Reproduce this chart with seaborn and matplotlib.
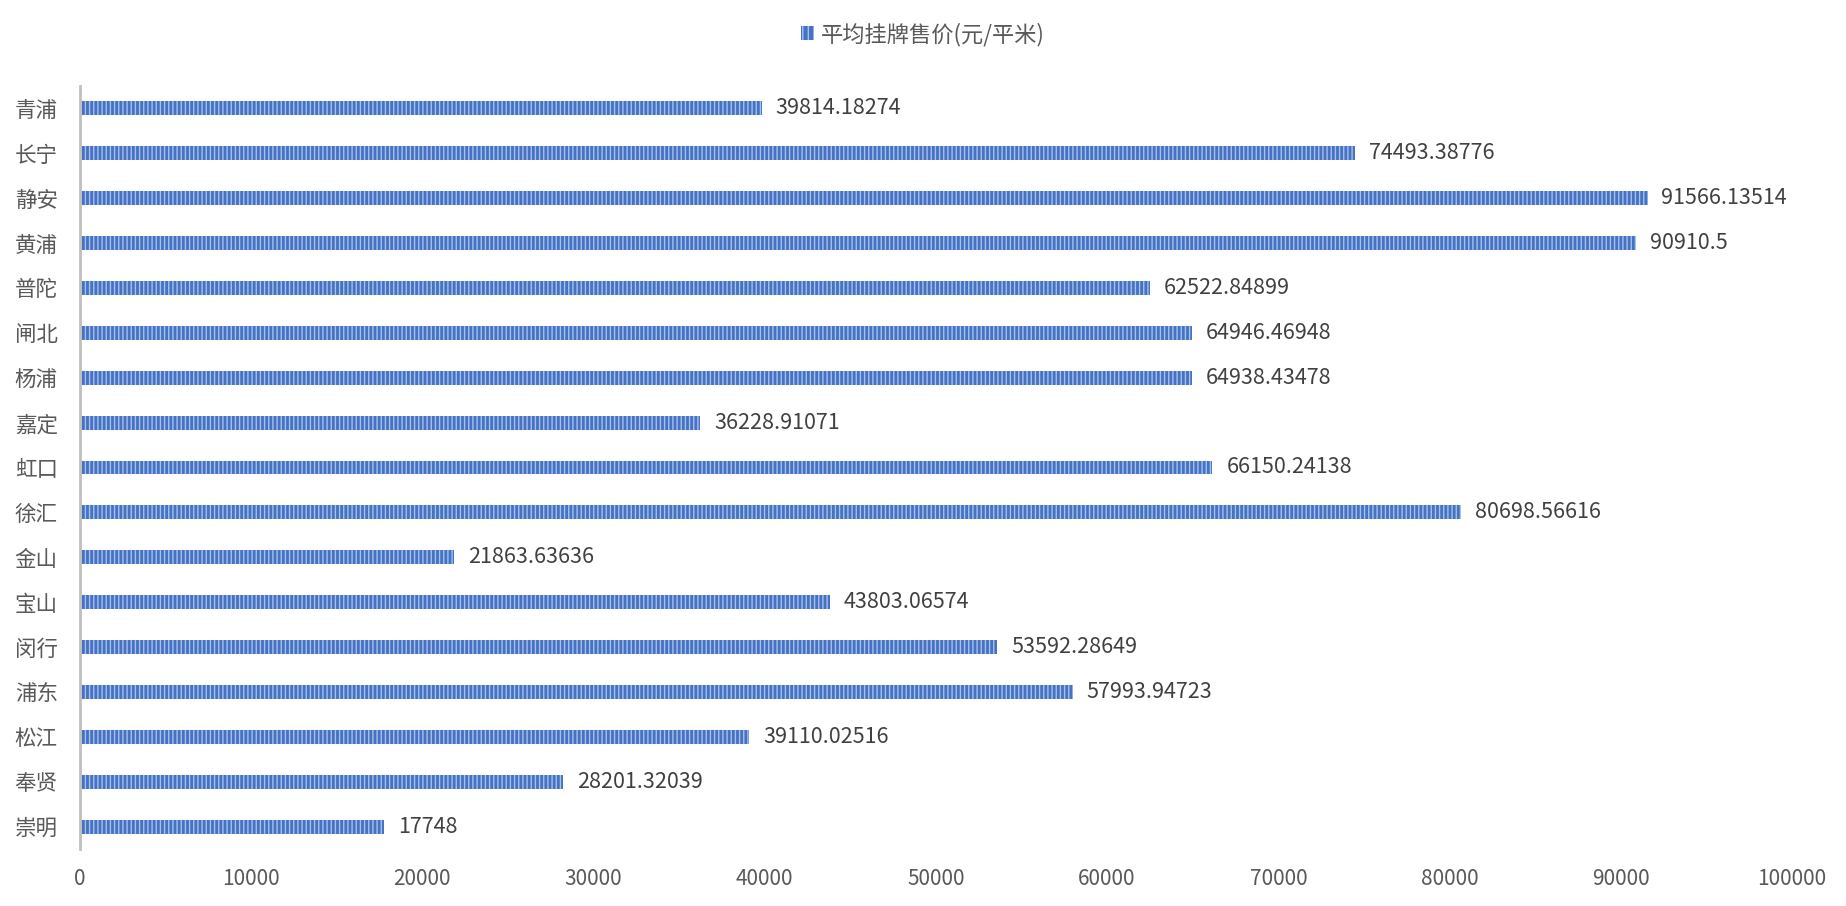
import matplotlib
matplotlib.use("Agg")
import matplotlib.pyplot as plt
from matplotlib.patches import Patch
import seaborn as sns
import pandas as pd

districts = ["青浦", "长宁", "静安", "黄浦", "普陀", "闸北", "杨浦", "嘉定", "虹口",
             "徐汇", "金山", "宝山", "闵行", "浦东", "松江", "奉贤", "崇明"]
prices = [39814.18274, 74493.38776, 91566.13514, 90910.5, 62522.84899, 64946.46948,
          64938.43478, 36228.91071, 66150.24138, 80698.56616, 21863.63636, 43803.06574,
          53592.28649, 57993.94723, 39110.02516, 28201.32039, 17748]
series_name = "平均挂牌售价(元/平米)"
x_ticks = list(range(0, 100001, 10000))

sns.set_theme(style="white")
plt.rcParams["font.family"] = ["Noto Sans CJK SC", "DejaVu Sans"]
plt.rcParams["hatch.linewidth"] = 1.0

text_color = "#595959"
bar_color = "#4472C4"
hatch_color = "#A9C0EA"

df = pd.DataFrame({"district": districts, "price": prices})

fig = plt.figure(figsize=(18.46, 9.06), dpi=100)
ax = fig.add_axes([0.0433, 0.0629, 0.9274, 0.8422])

sns.barplot(data=df, x="price", y="district", orient="h", color=bar_color,
            width=0.31, saturation=1, ax=ax)

for p in ax.patches:
    p.set_facecolor(bar_color)
    p.set_edgecolor(hatch_color)
    p.set_linewidth(0)
    p.set_hatch("||||")

ax.bar_label(ax.containers[0], labels=["%.10g" % v for v in prices],
             padding=10, fontsize=15.5, color="#404040")

ax.set_xlim(0, 100000)
ax.set_ylim(len(districts) - 0.5, -0.5)
ax.set_xticks(x_ticks)
ax.set_xticklabels([str(t) for t in x_ticks], fontsize=15, color=text_color)
ax.tick_params(axis="y", labelsize=15.5, labelcolor=text_color, length=0, pad=16)
ax.tick_params(axis="x", length=0, pad=14)
ax.set_xlabel("")
ax.set_ylabel("")
ax.grid(False)
for s in ["top", "right", "bottom"]:
    ax.spines[s].set_visible(False)
ax.spines["left"].set_color("#BFBFBF")
ax.spines["left"].set_linewidth(2)

handle = Patch(facecolor=bar_color, edgecolor=hatch_color, hatch="|||", linewidth=0)
fig.legend(handles=[handle], labels=[series_name], loc="center",
           bbox_to_anchor=(0.5, 0.962), frameon=False, fontsize=16,
           labelcolor=text_color, handlelength=0.6, handleheight=0.6,
           handletextpad=0.3)

fig.savefig("out.png", dpi=100)
